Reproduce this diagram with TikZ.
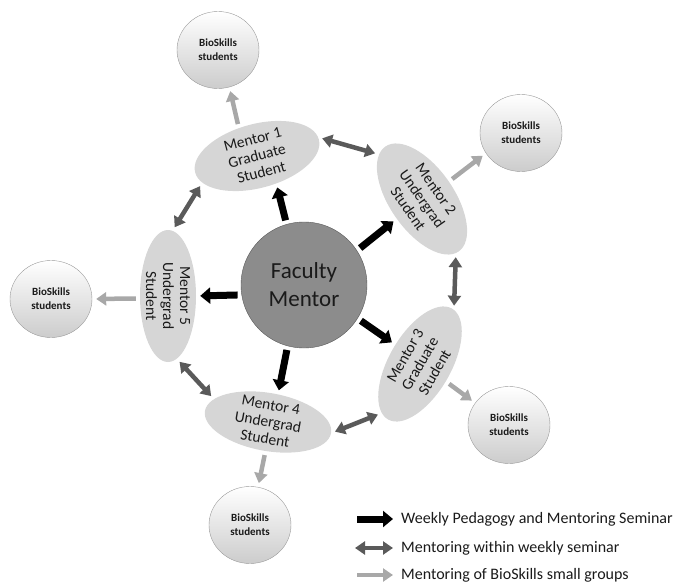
\documentclass[tikz,border=0pt]{standalone}
\usepackage{fontspec}
\setmainfont{Carlito}
\usetikzlibrary{shapes.geometric, arrows.meta, positioning}
\definecolor{grigioscuro}{HTML}{5A5A5A}
\definecolor{grigiochiaro}{HTML}{A8A8A8}
\definecolor{grigioellisse}{HTML}{D6D6D6}
\definecolor{grigiocentro}{HTML}{8C8C8C}
\definecolor{testo}{HTML}{1A1A1A}

\begin{document}
\begin{tikzpicture}[x = 1pt, y = 1pt,
    mentore/.style = {ellipse, fill=grigioellisse, inner sep=-6pt, minimum width=128pt, minimum height=62pt, align=center, text=testo, font=\fontsize{15.5}{17}\selectfont},
    bioskills/.style = {ellipse, draw=gray!80, thin, top color=white, bottom color=gray!40, minimum width=82pt, minimum height=77pt, inner sep=0pt, align=center, text=testo, font=\fontsize{11}{14}\selectfont\bfseries},
    seminario/.style = {black, line width=7pt, -{Triangle[length=10pt, width=16pt]}, shorten <=4pt, shorten >=4pt},
    interno/.style = {grigioscuro, line width=4.5pt, {Triangle[length=10pt, width=13pt]}-{Triangle[length=10pt, width=13pt]}, shorten <=4pt, shorten >=4pt},
    gruppi/.style = {grigiochiaro, line width=4.5pt, -{Triangle[length=10pt, width=13pt]}, shorten <=4pt, shorten >=4pt},
    legenda/.style = {anchor=west, inner sep=0pt, text=testo, font=\fontsize{16}{18}\selectfont}
]
    % Parametri
    \pgfmathsetmacro{\rfac}{126}
    \useasboundingbox (0,0) rectangle (681,-586);
    % Faculty mentor
    \node[circle, fill=grigiocentro, draw=gray!70!black, minimum size=\rfac pt, inner sep=0pt, align=center, text=testo, font=\fontsize{23}{28}\selectfont] (fac) at (304,-285) {Faculty\\Mentor};
    % Mentori
    \node[mentore, rotate=15, minimum height=64pt] (m1) at (257,-156) {Mentor 1\\Graduate\\Student};
    \node[mentore, rotate=-55, minimum height=64pt] (m2) at (422,-199) {Mentor 2\\Undergrad\\Student};
    \node[mentore, rotate=60] (m3) at (420,-364) {Mentor 3\\Graduate\\Student};
    \node[mentore, rotate=-10, minimum height=58pt] (m4) at (268,-422) {Mentor 4\\Undergrad\\Student};
    \node[mentore, rotate=-90, minimum width=132pt, minimum height=56pt] (m5) at (168,-296) {Mentor 5\\Undergrad\\Student};
    % Gruppi BioSkills
    \node[bioskills] (b1) at (218,-50) {BioSkills\\students};
    \node[bioskills] (b2) at (521,-133) {BioSkills\\students};
    \node[bioskills] (b3) at (51,-299) {BioSkills\\students};
    \node[bioskills] (b4) at (509,-425) {BioSkills\\students};
    \node[bioskills] (b5) at (250,-525) {BioSkills\\students};
    % Seminario settimanale
    \draw[seminario] (fac.106) -- (m1.-70);
    \draw[seminario] (fac.33) -- (m2.-87);
    \draw[seminario] (fac.-32) -- (m3.82);
    \draw[seminario] (fac.-105) -- (m4.80);
    \draw[seminario] (fac.189) -- (m5.90);
    % Tra mentori
    \draw[interno] (m1.2) -- (m2.189);
    \draw[interno] (m2.-3) -- (m3.-2);
    \draw[interno] (m3.172) -- (m4.0);
    \draw[interno] (m4.167) -- (m5.8);
    \draw[interno] (m5.176) -- (m1.-169);
    % Verso i gruppi
    \draw[gruppi] (m1.108) -- (b1.-73);
    \draw[gruppi] (m2.88) -- (b2.210);
    \draw[gruppi] (m3.-94) -- (b4.147);
    \draw[gruppi] (m4.-85) -- (b5.78);
    \draw[gruppi] (m5.-85) -- (b3.0);
    % Legenda
    \node[legenda] (leg1) at (401,-519) {Weekly Pedagogy and Mentoring Seminar};
    \node[legenda] (leg2) at (401,-548) {Mentoring within weekly seminar};
    \node[legenda] (leg3) at (401,-575) {Mentoring of BioSkills small groups};
    \coordinate (c1) at (357,-519);
    \coordinate (c2) at (355,-548);
    \coordinate (c3) at (357,-575);
    \draw[seminario, shorten <=0pt, shorten >=8pt] (c1) -- (leg1.west);
    \draw[interno, shorten <=0pt, shorten >=8pt] (c2) -- (leg2.west);
    \draw[gruppi, shorten <=0pt, shorten >=8pt] (c3) -- (leg3.west);
\end{tikzpicture}
\end{document}
